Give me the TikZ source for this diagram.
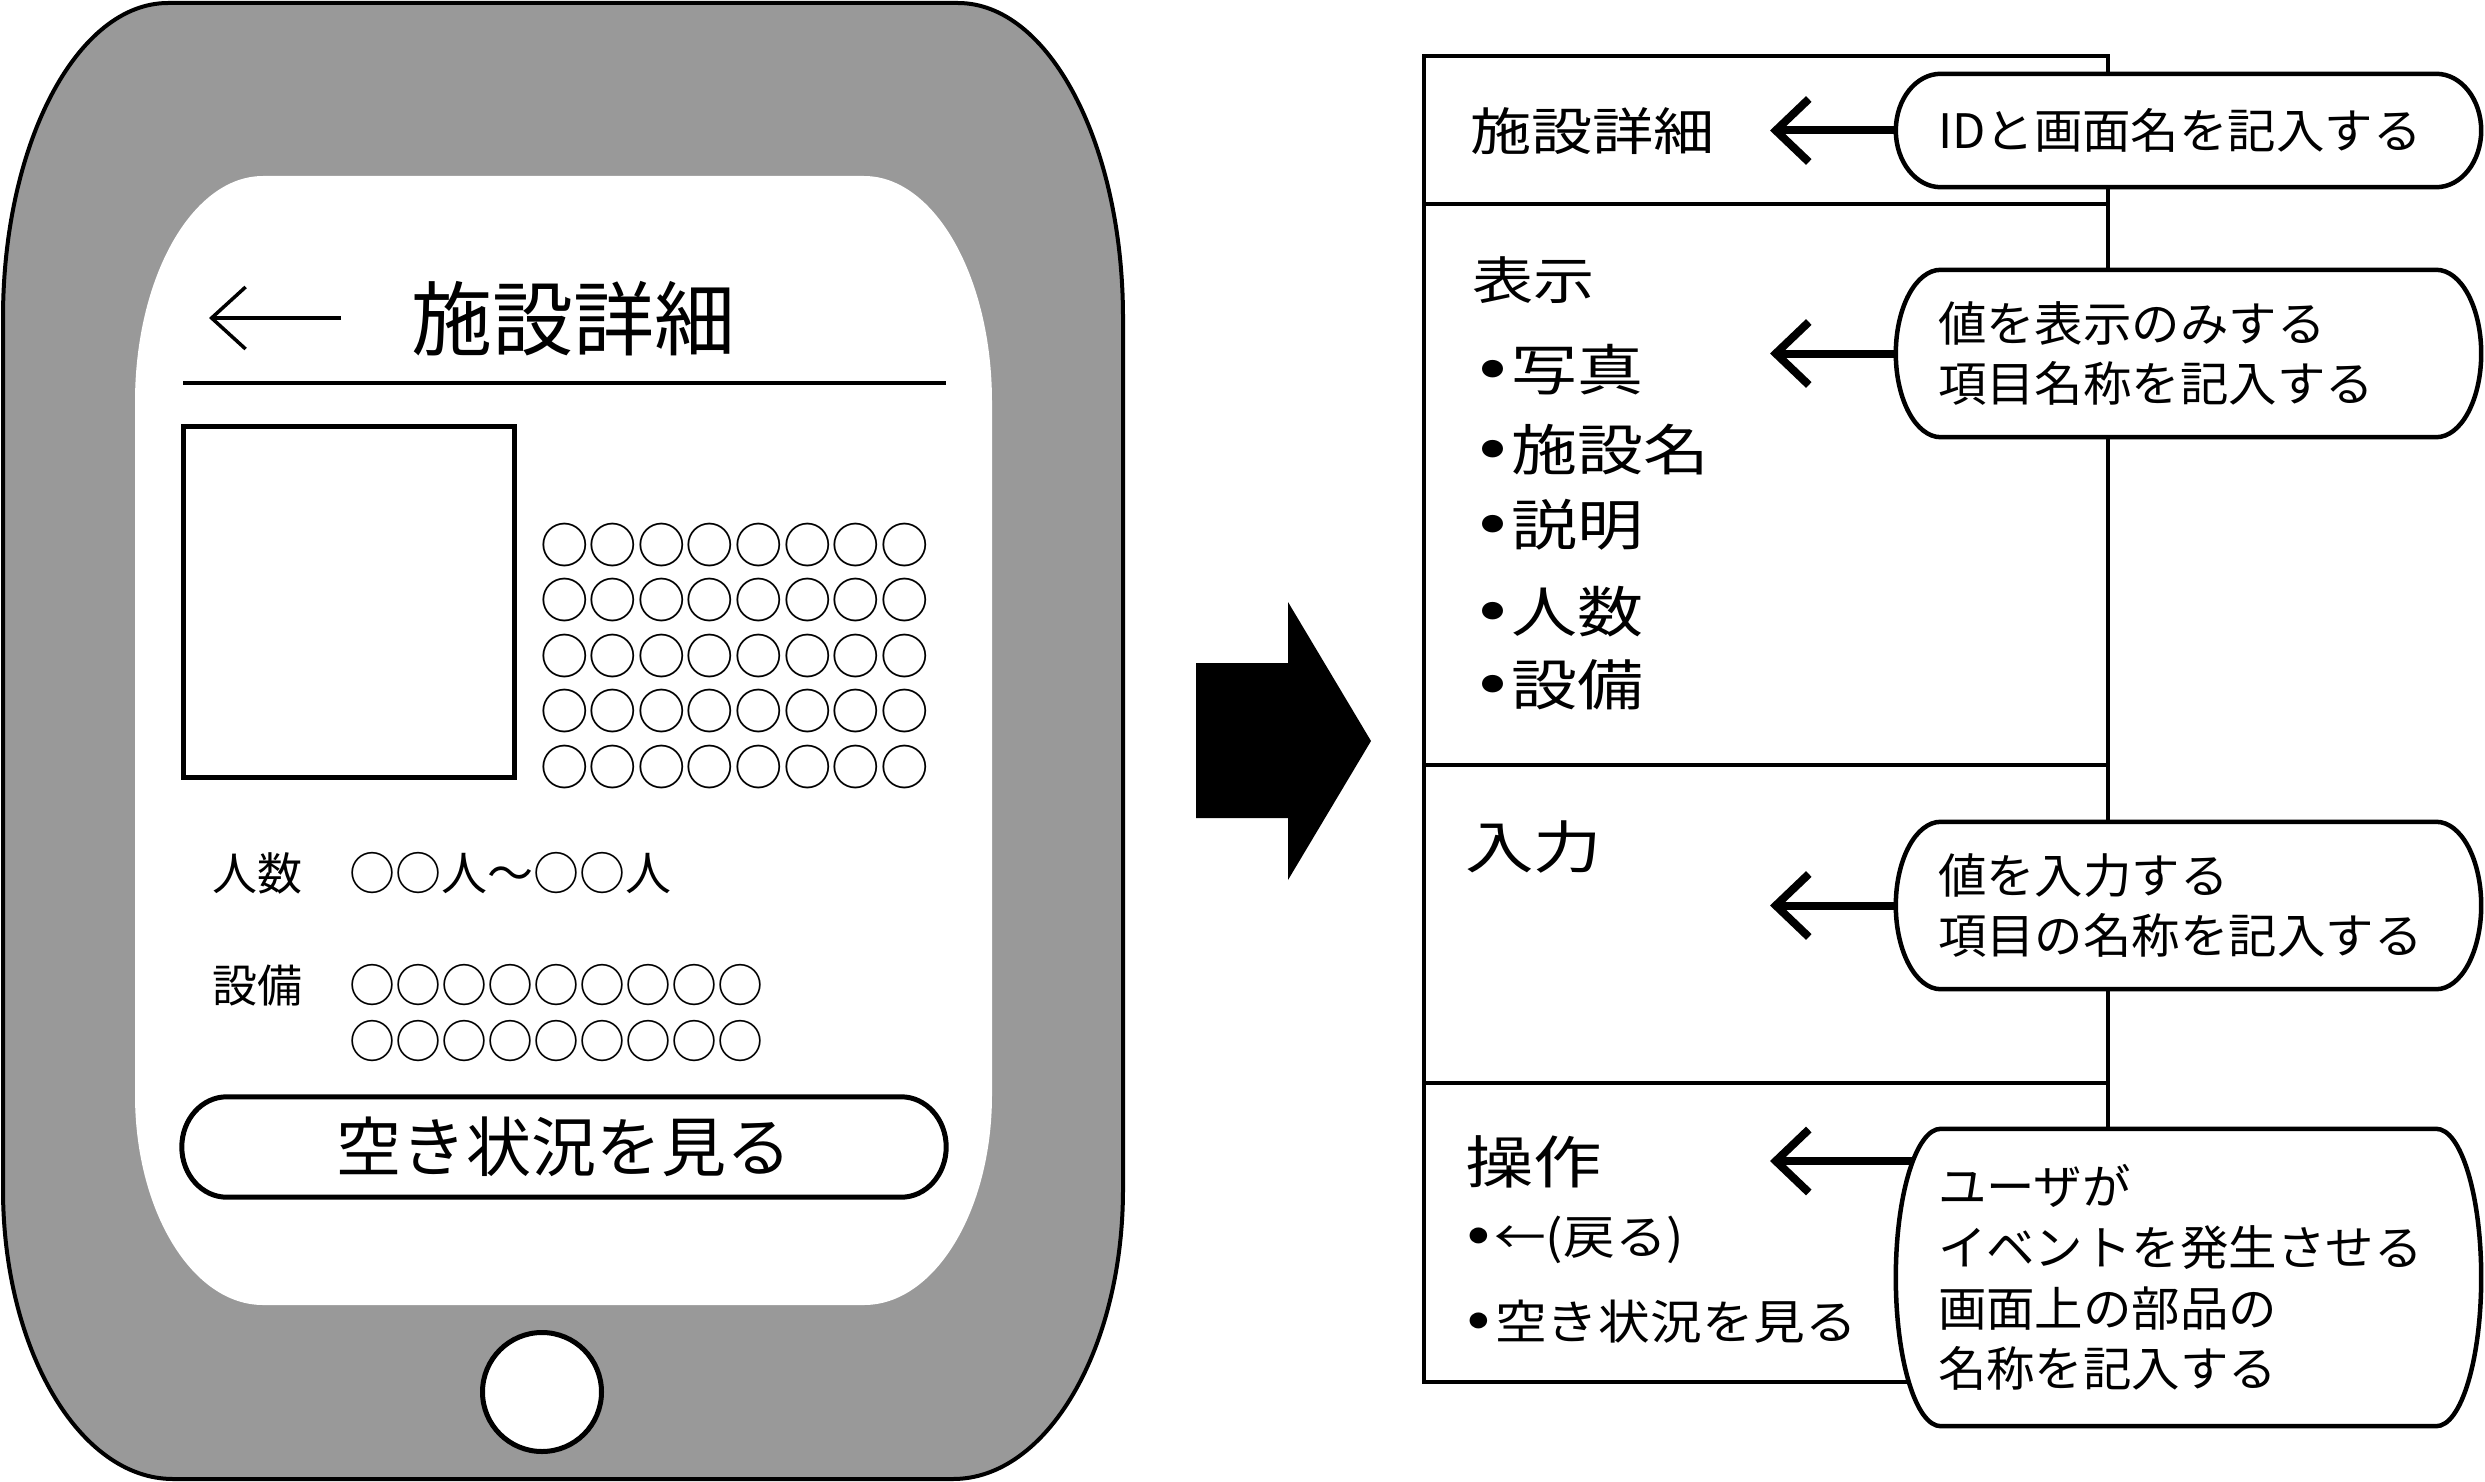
\documentclass[tikz,border=0pt]{standalone}
\usepackage{graphicx}
\usepackage{fontspec}
\setmainfont{Noto Sans CJK JP}
\newfontfamily\widejp[FakeStretch=1.2]{Noto Sans CJK JP}
\newfontfamily\semiwidejp[FakeStretch=1.1]{Noto Sans CJK JP}
\newfontfamily\notejp[FakeStretch=1.02]{Noto Sans CJK JP}
\usetikzlibrary{arrows.meta,calc}
\pgfdeclarelayer{back}
\pgfsetlayers{back,main}

% font size helper: size and baseline skip in pt
\newcommand\fsz[2]{\fontsize{#1pt}{#2pt}\selectfont}
% enlarged list bullet: box width, scale factor, drop (em) that keeps it on the middle line
\newcommand\dotmark[3]{\makebox[#1][c]{\raisebox{-#3em}{\scalebox{#2}{・}}}}
% frame with half-elliptical ends around a node: style, node, end radius (pt)
\newcommand\ovalframe[3]{%
  \path[#1] let \p1=(#2.south west), \p2=(#2.north east), \n1={abs(\y2-\y1)/2} in
    (\x1+#3pt,\y2) -- (\x2-#3pt,\y2)
    arc[start angle=90,end angle=-90,x radius=#3pt,y radius=\n1]
    -- (\x1+#3pt,\y1)
    arc[start angle=270,end angle=90,x radius=#3pt,y radius=\n1] -- cycle;}

\begin{document}
\begin{tikzpicture}[x=1pt,y=-1pt,
  tabletbody/.style={draw=black,line width=4pt,fill=black!40},
  screenface/.style={fill=white},
  outline/.style={draw=black,line width=5pt},
  sheet/.style={draw=black,line width=4.5pt},
  lbl/.style={inner sep=0pt,anchor=base west},
  callout/.style={inner xsep=42pt,inner ysep=0pt,text width=501pt,align=left,
    minimum width=585pt,font=\notejp\fsz{47.5}{60.8}},
  callframe/.style={draw=black,line width=4.5pt,fill=white},
  btnframe/.style={draw=black,line width=5pt},
  pointer/.style={line width=8pt,-{Straight Barb[length=33pt,width=63pt]}},
  backarrow/.style={line width=3.5pt,-{Straight Barb[length=34pt,width=62pt]}}]

\useasboundingbox (0,0) rectangle (2485,1482);
\begin{pgfonlayer}{back}
  \fill[white] (0,0) rectangle (2485,1482);
\end{pgfonlayer}

% ---------- tablet ----------
\path[tabletbody] (168,3) -- (958,3)
  arc[start angle=90,end angle=0,x radius=165pt,y radius=315pt] -- (1123,1189)
  arc[start angle=0,end angle=-90,x radius=170pt,y radius=290pt] -- (173,1479)
  arc[start angle=270,end angle=180,x radius=170pt,y radius=290pt] -- (3,318)
  arc[start angle=180,end angle=90,x radius=165pt,y radius=315pt] -- cycle;
\path[screenface] (263,176) -- (864,176)
  arc[start angle=90,end angle=0,x radius=128pt,y radius=226pt] -- (992,1095)
  arc[start angle=0,end angle=-90,x radius=128pt,y radius=210pt] -- (263,1305)
  arc[start angle=270,end angle=180,x radius=128pt,y radius=210pt] -- (135,402)
  arc[start angle=180,end angle=90,x radius=128pt,y radius=226pt] -- cycle;
\node[outline,circle,fill=white,minimum size=119pt] (home) at (542,1392) {};

% screen header
\coordinate (backA) at (341,318);
\coordinate (backB) at (209,318);
\draw[backarrow] (backA) -- (backB);
\node[lbl,font=\fsz{81}{97}] (hdr) at (411,349) {施設詳細};
\draw[line width=4.5pt] (183,383) -- (946,383);

% photo and description
\node[outline,minimum width=331pt,minimum height=351pt] (photo) at (348.5,601.5) {};
\node[inner sep=0pt,align=left,font=\fsz{48.6}{55.5}] (desc) at (734.5,656)
  {○○○○○○○○\\○○○○○○○○\\○○○○○○○○\\○○○○○○○○\\○○○○○○○○};

% capacity and equipment
\node[lbl,font=\fsz{45}{54}] (ppl) at (212,890) {人数};
\node[lbl,font=\fsz{46}{55}] (pplv) at (349,890) {○○人～○○人};
\node[lbl,font=\fsz{45}{54}] (eqp) at (212,1002) {設備};
\node[inner sep=0pt,anchor=west,align=left,font=\fsz{46}{56}] (eqpv) at (349,1013)
  {○○○○○○○○○\\○○○○○○○○○};

% availability button
\node[inner sep=0pt,minimum width=764pt,minimum height=100pt,font=\fsz{65}{78}]
  (avail) at (564,1147) {空き状況を見る};
\ovalframe{btnframe}{avail}{45}

% ---------- transition arrow ----------
\fill[black] (1196,663) -- (1288,663) -- (1288,602) -- (1371,741)
  -- (1288,880) -- (1288,818) -- (1196,818) -- cycle;

% ---------- screen definition sheet ----------
\node[lbl,font=\widejp\fsz{51}{61}] (ttl) at (1470,151) {施設詳細};
\node[lbl,font=\widejp\fsz{51}{61}] (disp) at (1472,299) {表示};
\node[lbl,font=\widejp\fsz{55}{66}] (d1) at (1475,390) {\dotmark{36pt}{1.5}{0.19}写真};
\node[lbl,font=\widejp\fsz{55}{66}] (d2) at (1475,470) {\dotmark{36pt}{1.5}{0.19}施設名};
\node[lbl,font=\widejp\fsz{55}{66}] (d3) at (1475,545) {\dotmark{36pt}{1.5}{0.19}説明};
\node[lbl,font=\widejp\fsz{55}{66}] (d4) at (1475,632) {\dotmark{36pt}{1.5}{0.19}人数};
\node[lbl,font=\widejp\fsz{55}{66}] (d5) at (1475,705) {\dotmark{36pt}{1.5}{0.19}設備};
\node[lbl,font=\widejp\fsz{57}{68}] (inp) at (1465,868) {入力};
\node[lbl,font=\widejp\fsz{57}{68}] (ops) at (1465,1183) {操作};
\node[lbl,font=\semiwidejp\fsz{47}{56}] (o1) at (1464,1254) {\dotmark{30pt}{1.6}{0.23}←(戻る)};
\node[lbl,font=\semiwidejp\fsz{47}{56}] (o2) at (1463,1339) {\dotmark{32pt}{1.6}{0.23}空き状況を見る};

% notes
\node[callout,minimum height=113pt] (c1) at (2188.5,130.5) {IDと画面名を記入する};
\node[callout,minimum height=167pt] (c2) at (2188.5,353.5)
  {値を表示のみする\\項目名称を記入する};
\node[callout,minimum height=167pt] (c3) at (2188.5,905.5)
  {値を入力する\\項目の名称を記入する};
\node[callout,minimum height=297pt] (c4) at (2188.5,1277.5)
  {ユーザが\\イベントを発生させる\\画面上の部品の\\名称を記入する};

\coordinate (tip1) at (1770,130.5);
\coordinate (tip2) at (1770,353.5);
\coordinate (tip3) at (1770,905.5);
\coordinate (tip4) at (1770,1161);

\begin{pgfonlayer}{back}
  \draw[sheet] (1424,56) rectangle (2108,1382);
  \draw[sheet] (1424,204) -- (2108,204);
  \draw[sheet] (1424,765) -- (2108,765);
  \draw[sheet] (1424,1083) -- (2108,1083);
  \draw[pointer] (c1.west) -- (tip1);
  \draw[pointer] (c2.west) -- (tip2);
  \draw[pointer] (c3.west) -- (tip3);
  \draw[pointer] ($(c4.west |- tip4)+(40,0)$) -- (tip4);
  \ovalframe{callframe}{c1}{45}
  \ovalframe{callframe}{c2}{45}
  \ovalframe{callframe}{c3}{45}
  \ovalframe{callframe}{c4}{45}
\end{pgfonlayer}
\end{tikzpicture}
\end{document}
